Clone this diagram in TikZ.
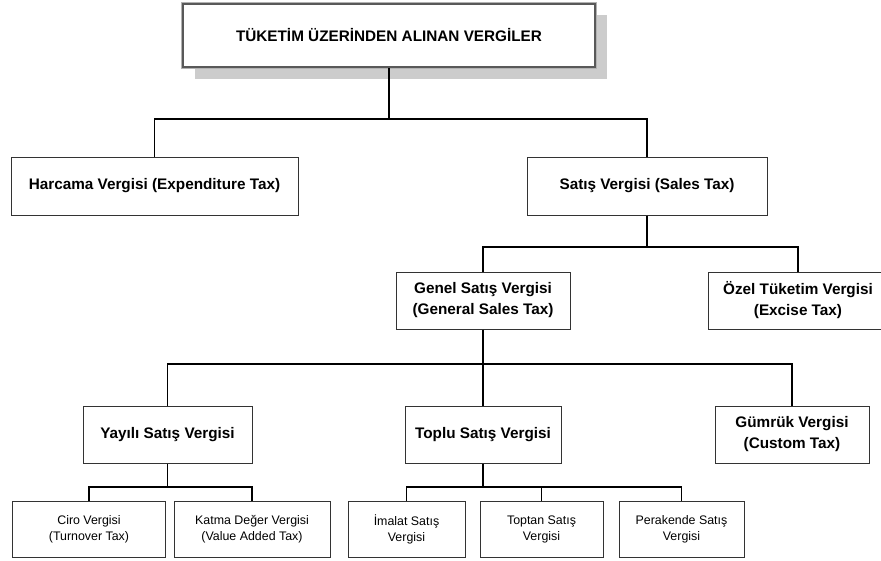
\documentclass[tikz,border=0pt]{standalone}
\usepackage{fontspec}
\setmainfont{Liberation Sans}
\begin{document}
\begin{tikzpicture}[x=1pt,y=-1pt,
  bx/.style={draw=black!80, line width=1pt, fill=white, inner sep=0pt, align=center,
    font=\bfseries\fontsize{15.3}{21}\selectfont},
  sbx/.style={bx, font=\fontsize{12.4}{16}\selectfont},
  rootbox/.style={bx, draw=black!65, line width=2.8pt},
  conn/.style={draw=black, line width=1.3pt}]
\useasboundingbox (0,0) rectangle (881,560);

\fill[black!20] (195,15) rectangle (607,79);
\node[rootbox, minimum width=412pt, minimum height=63pt]
  (root) at (389,35.5) {TÜKETİM ÜZERİNDEN ALINAN VERGİLER};
\draw[black!30, line width=1pt] (root.north west) rectangle (root.south east);

\node[bx, minimum width=287pt, minimum height=58pt] (harc) at (154.5,186) {Harcama Vergisi (Expenditure Tax)};
\node[bx, minimum width=240pt, minimum height=58pt] (sat) at (647,186) {Satış Vergisi (Sales Tax)};

\node[bx, minimum width=174pt, minimum height=57pt] (gen) at (483,300.5) {Genel Satış Vergisi\\(General Sales Tax)};
\node[bx, minimum width=180pt, minimum height=57pt] (oz) at (798,300.5) {Özel Tüketim Vergisi\\(Excise Tax)};

\node[bx, minimum width=169pt, minimum height=57pt] (yay) at (167.5,434.5) {Yayılı Satış Vergisi};
\node[bx, minimum width=156pt, minimum height=57pt] (topl) at (483,434.5) {Toplu Satış Vergisi};
\node[bx, minimum width=154pt, minimum height=57pt] (gum) at (792,434.5) {Gümrük Vergisi\\(Custom Tax)};

\node[sbx, minimum width=153pt, minimum height=56pt] (ciro) at (89,529) {Ciro Vergisi\\(Turnover Tax)};
\node[sbx, minimum width=156pt, minimum height=56pt] (kdv) at (252,529) {Katma Değer Vergisi\\(Value Added Tax)};
\node[sbx, minimum width=117pt, minimum height=56pt] (ima) at (406.5,529) {İmalat Satış\\Vergisi};
\node[sbx, minimum width=123pt, minimum height=56pt] (topt) at (541.5,529) {Toptan Satış\\Vergisi};
\node[sbx, minimum width=125pt, minimum height=56pt] (per) at (681.5,529) {Perakende Satış\\Vergisi};

\coordinate (b1) at (389,119);
\coordinate (b2) at (647,247);
\coordinate (b3) at (483,364);
\coordinate (b4) at (167.5,487);
\coordinate (b5) at (483,487);

\draw[conn] (root.south) -- (b1);
\draw[conn] (b1) -| (harc.north);
\draw[conn] (b1) -| (sat.north);
\draw[conn] (sat.south) -- (b2);
\draw[conn] (b2) -| (gen.north);
\draw[conn] (b2) -| (oz.north);
\draw[conn] (gen.south) -- (b3);
\draw[conn] (b3) -| (yay.north);
\draw[conn] (b3) -| (topl.north);
\draw[conn] (b3) -| (gum.north);
\draw[conn] (yay.south) -- (b4);
\draw[conn] (b4) -| (ciro.north);
\draw[conn] (b4) -| (kdv.north);
\draw[conn] (topl.south) -- (b5);
\draw[conn] (b5) -| (ima.north);
\draw[conn] (b5) -| (topt.north);
\draw[conn] (b5) -| (per.north);
\end{tikzpicture}
\end{document}
